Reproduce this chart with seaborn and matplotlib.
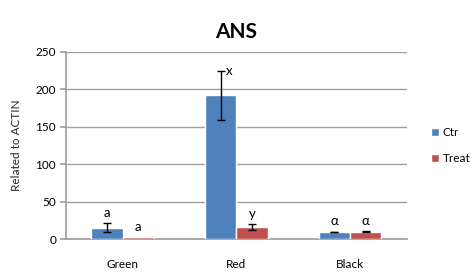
import matplotlib
matplotlib.use("Agg")
import matplotlib.pyplot as plt
import numpy as np
import pandas as pd
import seaborn as sns

categories = ["Green", "Red", "Black"]
groups = ["Ctr", "Treat"]
ctr_values = [15, 192, 9.5]
treat_values = [2.5, 16, 10]
ctr_errors = [6, 33, 0.5]
treat_errors = [0, 4, 1]
ctr_letters = ["a", "x", "α"]
treat_letters = ["a", "y", "α"]

colors = ["#4F81BD", "#C0504D"]

df = pd.DataFrame({
    "category": categories * 2,
    "group": [groups[0]] * 3 + [groups[1]] * 3,
    "value": ctr_values + treat_values,
})

sns.set_theme(style="white")
plt.rcParams["font.family"] = ["Lato", "DejaVu Sans"]
plt.rcParams["text.color"] = "black"
plt.rcParams["xtick.color"] = "black"
plt.rcParams["ytick.color"] = "black"

fig = plt.figure(figsize=(4.77, 2.72), dpi=100)
ax = fig.add_axes([0.138, 0.121, 0.715, 0.688])

sns.barplot(data=df, x="category", y="value", hue="group", order=categories,
            hue_order=groups, palette=colors, width=0.55, errorbar=None,
            saturation=1, ax=ax, zorder=3)

# error bars and letters on top of each bar
for gi, (vals, errs, letters) in enumerate([(ctr_values, ctr_errors, ctr_letters),
                                             (treat_values, treat_errors, treat_letters)]):
    bars = ax.containers[gi]
    for bar, v, e, lab in zip(bars, vals, errs, letters):
        cx = bar.get_x() + bar.get_width() / 2
        if e > 0:
            ax.errorbar(cx, v, yerr=e, fmt="none", ecolor="black", elinewidth=1,
                        capsize=3, capthick=1, zorder=4)
        if lab == "x":
            ax.annotate(lab, (cx, v + e), xytext=(4, 0), textcoords="offset points",
                        ha="left", va="center", fontsize=9.5)
        else:
            ax.annotate(lab, (cx, v + e), xytext=(0, 3), textcoords="offset points",
                        ha="center", va="bottom", fontsize=9.5)

ax.set_ylim(0, 250)
ax.set_yticks(np.arange(0, 251, 50))
ax.set_xlim(-0.5, 2.5)
ax.yaxis.grid(True, color="#A0A0A0", linewidth=1)
ax.set_axisbelow(True)
for s in ["top", "right"]:
    ax.spines[s].set_visible(False)
ax.spines["left"].set_color("#A0A0A0")
ax.spines["bottom"].set_color("#A0A0A0")
ax.tick_params(axis="y", left=True, length=4, color="#A0A0A0", labelsize=8.5, pad=3)
ax.tick_params(axis="x", bottom=False, labelsize=8.5, pad=8)
ax.set_xlabel("")
ax.set_ylabel("Related to ACTIN", fontsize=8.5, labelpad=10)
ax.set_title("ANS", fontsize=15, fontweight="bold", pad=10)

ax.legend(loc="center left", bbox_to_anchor=(1.04, 0.5), frameon=False,
          fontsize=8.5, handlelength=0.7, handleheight=0.7, handletextpad=0.3,
          labelspacing=1.3)

fig.savefig("out.png", dpi=100)
